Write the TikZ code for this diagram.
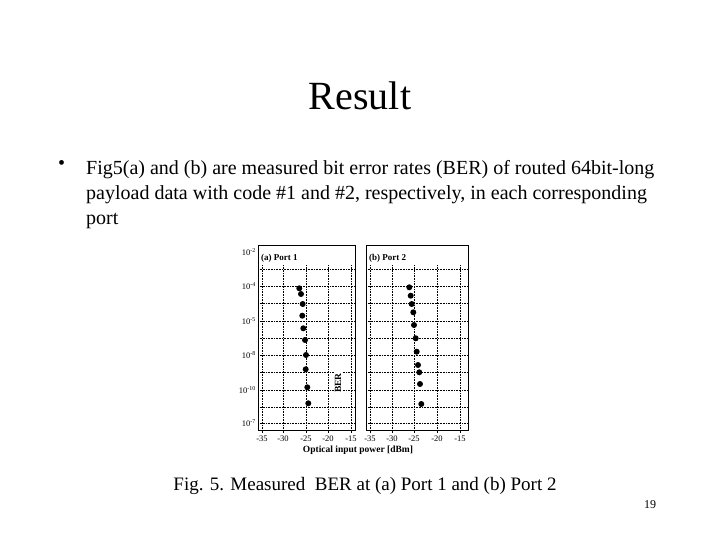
\documentclass[tikz,border=0pt]{standalone}
\usepackage{fontspec}
\setmainfont{Liberation Serif}
\begin{document}
\begin{tikzpicture}[x=1pt,y=-1pt,
  grid/.style={densely dotted,line width=0.6pt},
  frame/.style={line width=0.8pt},
  dot/.style={circle,fill=black,inner sep=0pt,minimum size=6pt},
  tick/.style={font=\fontsize{8.5}{9}\selectfont},
  body/.style={font=\fontsize{20}{25}\selectfont,anchor=north west,align=left,inner sep=0pt}]
\useasboundingbox (0,0) rectangle (720,540);
\node (title) at (360,96) {\fontsize{40}{44}\selectfont Result};
\node[body] (bul) at (58,160) {•};
\node[body] (txt) at (86,160) {Fig5(a) and (b) are measured bit error rates (BER) of routed 64bit-long\\payload data with code \#1 and \#2, respectively, in each corresponding\\port};
% panels
\foreach \L/\R/\lab in {258/355/{(a) Port 1},366/468/{(b) Port 2}}{
  \foreach \y in {269,286,303,321,338,355,372,390,407,423}
    \draw[grid] (\L,\y) -- (\R,\y);
  \draw[frame] (\L,245) rectangle (\R,430);
  \node[anchor=west,font=\fontsize{9}{10}\selectfont\bfseries,fill=white,inner sep=1pt] at (\L+2,258) {\lab};
}
\foreach \x in {262,283,306,328,351}{\draw[grid] (\x,265) -- (\x,430); \draw (\x,430) -- (\x,433);}
\foreach \x in {370,392,414,437,460}{\draw[grid] (\x,265) -- (\x,430); \draw (\x,430) -- (\x,433);}
\foreach \x/\t in {262/-35,283/-30,306/-25,328/-20,351/-15,370/-35,392/-30,414/-25,437/-20,460/-15}
  \node[tick] at (\x,439) {\t};
\foreach \y/\e in {252/-2,286/-4,321/-5,355/-8,390/-10,423/-7}
  \node[tick,anchor=east,inner sep=1pt] at (257,\y) {10\textsuperscript{\e}};
\foreach \p in {(299.3,288.3),(301,294),(302.7,304),(302.3,315.7),(303.3,328.3),(305,340),(306,355),(305.7,369.3),(307.3,387.3),(308.3,403.3)}
  \node[dot] at \p {};
\foreach \p in {(409.3,287.3),(410.7,295.7),(411.7,304),(413.3,312.3),(414,325),(415.7,338.3),(416.7,351.7),(418,365),(419.3,372.3),(420,384),(421.3,404)}
  \node[dot] at \p {};
\node[rotate=90,font=\fontsize{9.5}{10}\selectfont\bfseries,fill=white,inner sep=1pt] (ber) at (338,383) {BER};
\node[font=\fontsize{9.5}{10}\selectfont\bfseries] (xl) at (358,450) {Optical input power [dBm]};
\node[font=\fontsize{19}{22}\selectfont] (cap) at (365,486) {Fig. 5. Measured\ \ BER at (a) Port 1 and (b) Port 2};
\node[font=\fontsize{12}{14}\selectfont] (pg) at (650,505) {19};
\end{tikzpicture}
\end{document}
